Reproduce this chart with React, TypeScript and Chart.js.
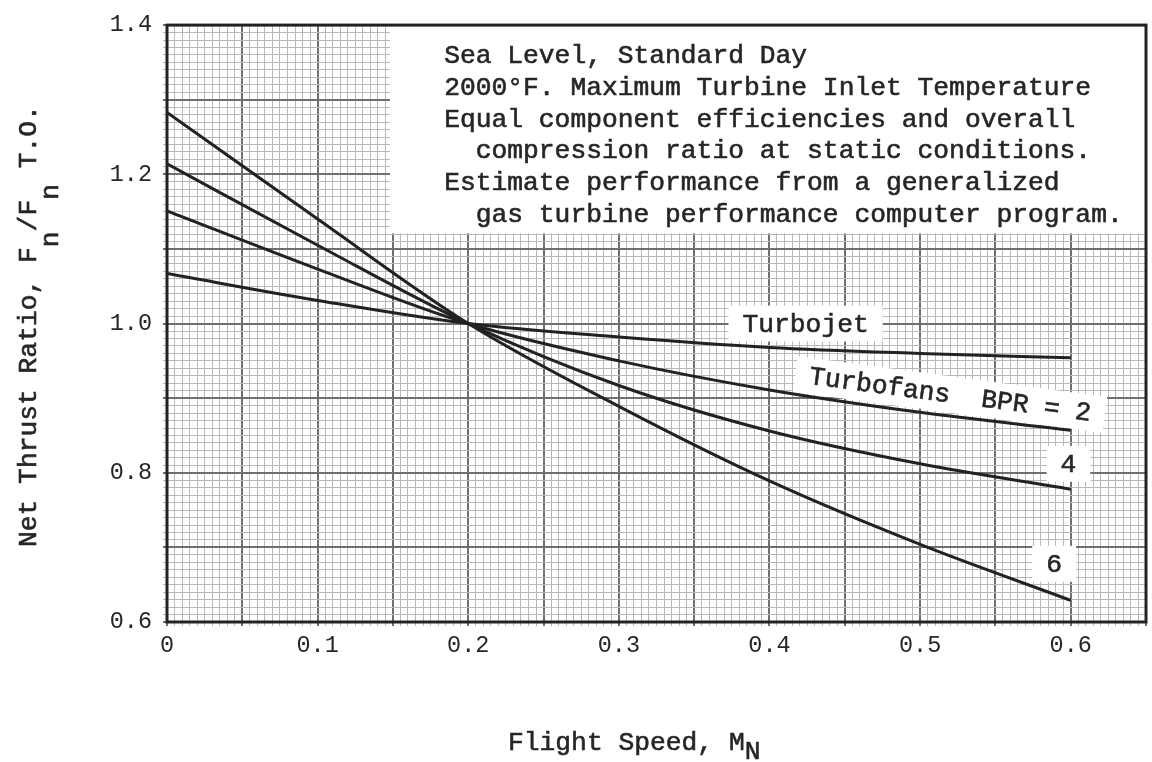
import React, { useEffect, useRef } from "react";
import { Chart, registerables } from "chart.js";

Chart.register(...registerables);

// Flight Mach number stations
const machNumbers = [0, 0.1, 0.2, 0.3, 0.4, 0.5, 0.6];

// Net thrust ratio Fn / Fn(T.O.) for each engine type
const turbojetRatio = [1.067, 1.031, 1.0, 0.982, 0.968, 0.96, 0.954];
const bpr2Ratio = [1.151, 1.073, 1.0, 0.95, 0.911, 0.881, 0.857];
const bpr4Ratio = [1.214, 1.105, 1.0, 0.917, 0.856, 0.812, 0.778];
const bpr6Ratio = [1.283, 1.14, 1.0, 0.889, 0.789, 0.704, 0.629];

const seriesNames = ["Turbojet", "BPR 2", "BPR 4", "BPR 6"];
const seriesValues = [turbojetRatio, bpr2Ratio, bpr4Ratio, bpr6Ratio];

// Axis tick labels (major ticks only)
const xTickValues = [0, 0.1, 0.2, 0.3, 0.4, 0.5, 0.6];
const xTickLabels = ["0", "0.1", "0.2", "0.3", "0.4", "0.5", "0.6"];
const yTickValues = [0.6, 0.8, 1.0, 1.2, 1.4];
const yTickLabels = ["0.6", "0.8", "1.0", "1.2", "1.4"];

// Conditions note
const noteLines = [
  "Sea Level, Standard Day",
  "2000°F. Maximum Turbine Inlet Temperature",
  "Equal component efficiencies and overall",
  "  compression ratio at static conditions.",
  "Estimate performance from a generalized",
  "  gas turbine performance computer program.",
];

// Curve labels
const curveLabelTexts = ["Turbojet", "Turbofans  BPR = 2", "4", "6"];

// ---- layout / style (not data) ----
const TYPE_FONT = "'Liberation Mono', 'Courier New', monospace";
const INK = "#222222";
const TEXT_INK = "#262626";
const FINE_GRID = "#b8b8b8";
const MAJOR_GRID = "#6f6f6f";
const TEXT_SIZE = 26.3;
const TICK_SIZE = 23.5;

// anchor points (in axis units) for annotation labels
const curveLabelAnchors = [
  { x: 0.424, y: 1.0, angle: 0 },
  { x: 0.52, y: 0.905, angle: 7.5 },
  { x: 0.5985, y: 0.812, angle: 0 },
  { x: 0.589, y: 0.678, angle: 0 },
];
const noteBox = { xFrom: 0.148, yFrom: 1.121 };
const noteText = { x: 0.184, firstBaseline: 1.3487, lineGap: 31.7 };

const near = (v: number, targets: number[]) =>
  targets.findIndex((t) => Math.abs(t - v) < 1e-6);

// typewriter-like text: fill plus a hairline stroke for weight
const typeText = (ctx: CanvasRenderingContext2D, text: string, x: number, y: number) => {
  ctx.fillText(text, x, y);
  ctx.strokeText(text, x, y);
};

const drawSegments = (
  ctx: CanvasRenderingContext2D,
  parts: { text: string; drop: number }[]
) => {
  let cx = 0;
  for (const p of parts) {
    typeText(ctx, p.text, cx, p.drop);
    cx += ctx.measureText(p.text).width;
  }
};

const setTypeStyle = (ctx: CanvasRenderingContext2D) => {
  ctx.fillStyle = TEXT_INK;
  ctx.strokeStyle = TEXT_INK;
  ctx.lineWidth = 0.6;
  ctx.font = `${TEXT_SIZE}px ${TYPE_FONT}`;
};

const annotationPlugin = {
  id: "thrustAnnotations",
  beforeDatasetsDraw(chart: any) {
    const { ctx, chartArea, scales } = chart;
    const xs = scales.x;
    const ys = scales.y;

    // conditions note box
    const left = xs.getPixelForValue(noteBox.xFrom);
    const bottom = ys.getPixelForValue(noteBox.yFrom);
    ctx.save();
    ctx.fillStyle = "#ffffff";
    ctx.fillRect(left, chartArea.top, chartArea.right - left, bottom - chartArea.top);
    setTypeStyle(ctx);
    ctx.textAlign = "left";
    ctx.textBaseline = "alphabetic";
    const tx = xs.getPixelForValue(noteText.x);
    const ty = ys.getPixelForValue(noteText.firstBaseline);
    noteLines.forEach((line, i) => {
      typeText(ctx, line, tx, ty + i * noteText.lineGap);
    });
    ctx.restore();

    // curve labels on white patches
    curveLabelTexts.forEach((text, i) => {
      const a = curveLabelAnchors[i];
      const px = xs.getPixelForValue(a.x);
      const py = ys.getPixelForValue(a.y);
      ctx.save();
      ctx.translate(px, py);
      ctx.rotate((a.angle * Math.PI) / 180);
      ctx.font = `${TEXT_SIZE}px ${TYPE_FONT}`;
      const w = ctx.measureText(text).width;
      const padX = 14;
      const h = 36;
      ctx.fillStyle = "#ffffff";
      ctx.fillRect(-w / 2 - padX, -h / 2, w + padX * 2, h);
      setTypeStyle(ctx);
      ctx.textAlign = "center";
      ctx.textBaseline = "middle";
      typeText(ctx, text, 0, 1);
      ctx.restore();
    });
  },
  afterDatasetsDraw(chart: any) {
    const { ctx, chartArea } = chart;
    ctx.save();
    ctx.strokeStyle = INK;
    ctx.lineWidth = 3;
    ctx.strokeRect(
      chartArea.left,
      chartArea.top,
      chartArea.right - chartArea.left,
      chartArea.bottom - chartArea.top
    );
    ctx.restore();
  },
  afterDraw(chart: any) {
    const { ctx, chartArea } = chart;
    ctx.save();
    setTypeStyle(ctx);
    ctx.textAlign = "left";
    ctx.textBaseline = "alphabetic";

    // y-axis title, reading upward
    ctx.save();
    ctx.translate(chartArea.left - 131, chartArea.bottom - 75);
    ctx.rotate(-Math.PI / 2);
    drawSegments(ctx, [
      { text: "Net Thrust Ratio, F", drop: 0 },
      { text: "n", drop: 22 },
      { text: "/F", drop: 0 },
      { text: "n", drop: 22 },
      { text: " T.O.", drop: 0 },
    ]);
    ctx.restore();

    // x-axis title
    ctx.save();
    ctx.translate(chartArea.left + 341, chartArea.bottom + 128);
    drawSegments(ctx, [
      { text: "Flight Speed, M", drop: 0 },
      { text: "N", drop: 9 },
    ]);
    ctx.restore();
    ctx.restore();
  },
};

export default function App() {
  const canvasRef = useRef<HTMLCanvasElement | null>(null);

  useEffect(() => {
    const canvas = canvasRef.current;
    if (!canvas) return;

    const datasets = seriesNames.map((name, s) => ({
      label: name,
      data: machNumbers.map((m, i) => ({ x: m, y: seriesValues[s][i] })),
      borderColor: INK,
      borderWidth: 3,
      pointRadius: 0,
      fill: false,
      cubicInterpolationMode: "monotone" as const,
    }));

    const isMajorX = (v: number) => Math.round(v * 1000) % 50 === 0;
    const isMajorY = (v: number) => Math.round(v * 1000) % 100 === 0;

    const chart = new Chart(canvas, {
      type: "line",
      data: { datasets },
      plugins: [annotationPlugin],
      options: {
        responsive: false,
        animation: false,
        layout: { padding: { top: 14, right: 3, left: 0, bottom: 0 } },
        plugins: {
          legend: { display: false },
          tooltip: { enabled: false },
        },
        scales: {
          x: {
            type: "linear",
            min: 0,
            max: 0.65,
            border: { display: false },
            grid: {
              color: (c: any) => (isMajorX(c.tick?.value ?? 0) ? MAJOR_GRID : FINE_GRID),
              lineWidth: (c: any) => (isMajorX(c.tick?.value ?? 0) ? 2 : 1),
              tickLength: 4,
            },
            ticks: {
              stepSize: 0.005,
              autoSkip: false,
              minRotation: 0,
              maxRotation: 0,
              padding: 6,
              color: TEXT_INK,
              font: { family: TYPE_FONT, size: TICK_SIZE },
              callback: (v: any) => {
                const i = near(Number(v), xTickValues);
                return i >= 0 ? xTickLabels[i] : "";
              },
            },
            afterFit: (s: any) => {
              s.height = 140;
            },
          },
          y: {
            type: "linear",
            min: 0.6,
            max: 1.4,
            border: { display: false },
            grid: {
              color: (c: any) => (isMajorY(c.tick?.value ?? 0) ? MAJOR_GRID : FINE_GRID),
              lineWidth: (c: any) => (isMajorY(c.tick?.value ?? 0) ? 2 : 1),
              tickLength: 4,
            },
            ticks: {
              stepSize: 0.01,
              autoSkip: false,
              padding: 11,
              color: TEXT_INK,
              font: { family: TYPE_FONT, size: TICK_SIZE },
              callback: (v: any) => {
                const i = near(Number(v), yTickValues);
                return i >= 0 ? yTickLabels[i] : "";
              },
            },
            afterFit: (s: any) => {
              s.width = 167;
            },
          },
        },
      },
    } as any);

    return () => chart.destroy();
  }, []);

  return (
    <div
      style={{
        position: "fixed",
        left: 0,
        top: 0,
        width: 1152,
        height: 762,
        background: "#ffffff",
      }}
    >
      <canvas ref={canvasRef} width={1152} height={762} style={{ display: "block" }} />
    </div>
  );
}
